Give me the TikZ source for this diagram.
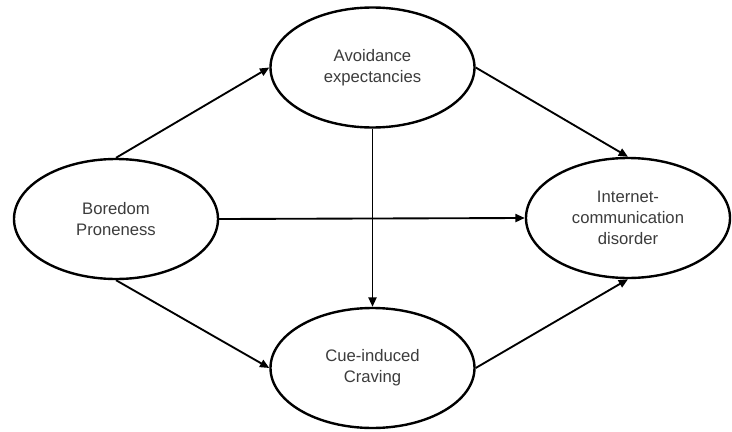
\documentclass[tikz,border=0pt]{standalone}
\usepackage{fontspec}
\setmainfont{Liberation Sans}
\usetikzlibrary{shapes.geometric,arrows.meta}
\definecolor{labelgray}{RGB}{60,60,60}

\tikzset{
	construct/.style={ellipse, draw=black, line width=1.8pt, fill=white, minimum width=153pt, minimum height=90pt, inner sep=0pt, align=center, text=labelgray, font=\fontsize{12.5}{15.5}\selectfont},
	path/.style={line width=1.4pt, -{Triangle[length=7pt,width=6pt]}}
}

\begin{document}
\begin{tikzpicture}[x=0.75pt,y=-0.75pt]
		\useasboundingbox (0,0) rectangle (732,432);

		%draw ellipses
		\node[construct] (bored) at (116,219) {Boredom\\Proneness};
		\node[construct] (avoid) at (372.5,67.5) {Avoidance\\expectancies};
		\node[construct] (crave) at (372.5,368) {Cue-induced\\Craving};
		\node[construct] (icd) at (628,218) {Internet-\\communication\\disorder};

		%draw arrows
		\draw[path] (bored.north) -- (avoid.west);
		\draw[path] (bored.east) -- (icd.west);
		\draw[path] (bored.south) -- (crave.west);
		\draw[path] (avoid.south) -- (crave.north);
		\draw[path] (avoid.east) -- (icd.north);
		\draw[path] (crave.east) -- (icd.south);
\end{tikzpicture}
\end{document}
